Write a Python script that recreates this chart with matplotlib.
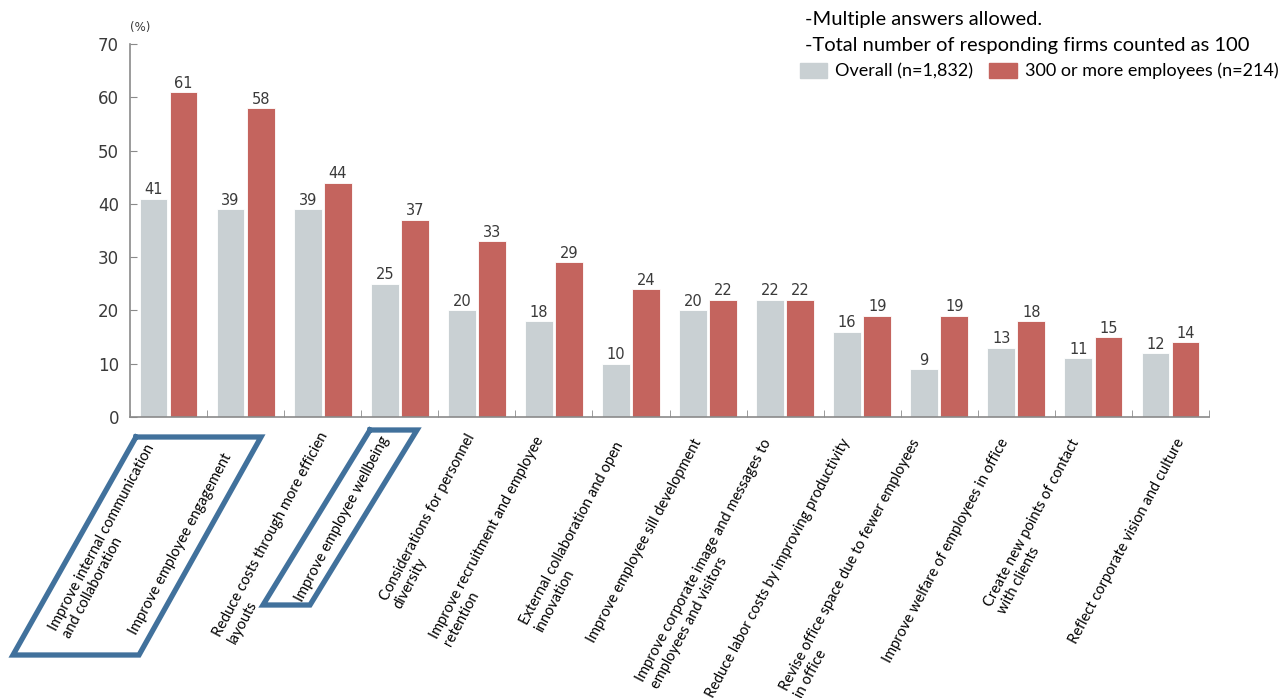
import numpy as np
import matplotlib.pyplot as plt
import matplotlib.transforms as mtrans
from matplotlib.lines import Line2D
from matplotlib.patches import Patch

# data
categories = [
    "Improve internal communication\nand collaboration",
    "Improve employee engagement",
    "Reduce costs through more efficien\nlayouts",
    "Improve employee wellbeing",
    "Considerations for personnel\ndiversity",
    "Improve recruitment and employee\nretention",
    "External collaboration and open\ninnovation",
    "Improve employee sill development",
    "Improve corporate image and messages to\nemployees and visitors",
    "Reduce labor costs by improving productivity",
    "Revise office space due to fewer employees\nin office",
    "Improve welfare of employees in office",
    "Create new points of contact\nwith clients",
    "Reflect corporate vision and culture",
]
overall = [41, 39, 39, 25, 20, 18, 10, 20, 22, 16, 9, 13, 11, 12]
large_firms = [61, 58, 44, 37, 33, 29, 24, 22, 22, 19, 19, 18, 15, 14]
yticks = [0, 10, 20, 30, 40, 50, 60, 70]

# hand nudges of the category labels (pixels, right / down), as in the original
label_nudge = [(-24, 5), (-24, 15), (-4, -7), (-20, -2), (-12, -5), (-20, -2), (-17, 3),
               (-16, 0), (-23, 0), (-22, 0), (-29, 0), (-17, 0), (-24, 0), (4, 0)]

GRAY = '#c9d0d3'
RED = '#c4645e'
BLUE = '#41719c'
W, H = 1283, 698

fig = plt.figure(figsize=(W / 100, H / 100), dpi=100)
ax = fig.add_axes([130 / W, 1 - 417 / H, (1209 - 130) / W, (417 - 44) / H])

x = np.arange(len(categories))
bw = 0.36
b1 = ax.bar(x - 0.195, overall, bw, color=GRAY, edgecolor='white', linewidth=0.6)
b2 = ax.bar(x + 0.195, large_firms, bw, color=RED, edgecolor='white', linewidth=0.6)
for bars in (b1, b2):
    ax.bar_label(bars, padding=1, fontsize=10.5, color='#3a3a3a')

ax.set_xlim(-0.5, len(categories) - 0.5)
ax.set_ylim(0, 70)
ax.set_yticks(yticks)
ax.tick_params(axis='y', direction='in', length=5, color='#8a8a8a',
               labelsize=12, labelcolor='#3a3a3a', pad=8)

# category labels at bar-group centers, separator ticks at group edges
ax.set_xticks(x)
ax.set_xticklabels(categories, rotation=62, ha='right', va='top',
                   rotation_mode='anchor', fontsize=10.5, family='Lato',
                   multialignment='left')
ax.tick_params(axis='x', which='major', length=0, pad=14)
for lab, (dx, dy) in zip(ax.get_xticklabels(), label_nudge):
    shift = mtrans.ScaledTranslation(dx / 100, -dy / 100, fig.dpi_scale_trans)
    lab.set_transform(lab.get_transform() + shift)
ax.set_xticks(np.arange(len(categories) + 1) - 0.5, minor=True)
ax.tick_params(axis='x', which='minor', direction='in', length=5, color='#8a8a8a')

for s in ('top', 'right'):
    ax.spines[s].set_visible(False)
for s in ('left', 'bottom'):
    ax.spines[s].set_color('#8a8a8a')
    ax.spines[s].set_linewidth(1.2)

fig.text(130 / W, 1 - 28 / H, '(%)', fontsize=8.5, color='#3a3a3a', ha='left', va='center')

# notes and legend
fig.text(805 / W, 1 - 20 / H, '-Multiple answers allowed.', fontsize=14.5, family='Lato',
         va='center', ha='left')
fig.text(805 / W, 1 - 46 / H, '-Total number of responding firms counted as 100', fontsize=14.5,
         family='Lato', va='center', ha='left')
handles = [Patch(color=GRAY), Patch(color=RED)]
fig.legend(handles, ['Overall (n=1,832)', '300 or more employees (n=214)'], ncol=2,
           loc='center left', bbox_to_anchor=(800 / W, 1 - 71 / H), frameon=False,
           prop={'family': 'Lato', 'size': 13}, handlelength=1.5, handleheight=0.9,
           handletextpad=0.45, columnspacing=0.9, borderaxespad=0, borderpad=0)

# blue highlight outlines
boxes = [
    [(136, 437), (261, 437), (139, 655), (13, 655)],
    [(370, 430), (417, 430), (310, 605), (263, 605)],
]
for pts in boxes:
    pts = pts + [pts[0]]
    xs = [p[0] / W for p in pts]
    ys = [1 - p[1] / H for p in pts]
    fig.add_artist(Line2D(xs, ys, color=BLUE, linewidth=3.8, solid_joinstyle='miter'))

fig.savefig('out.png', dpi=100)
